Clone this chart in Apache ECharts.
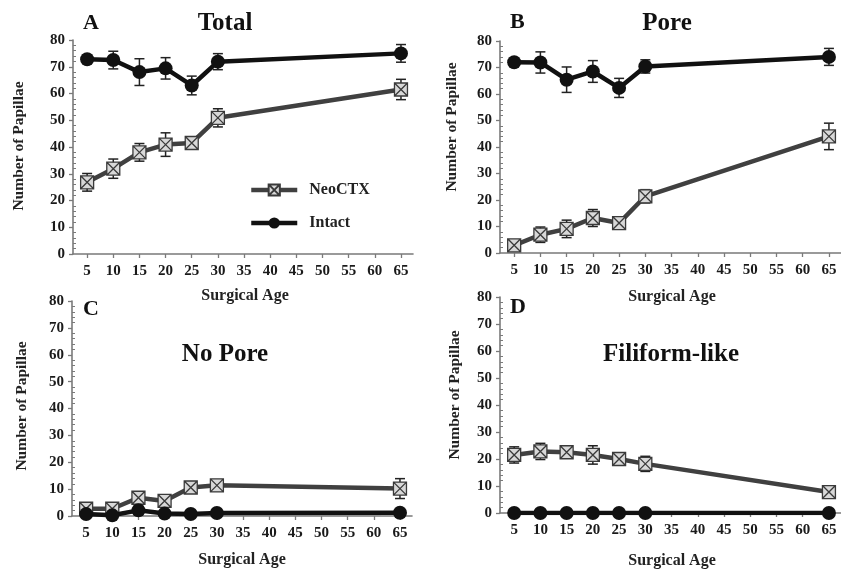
<!DOCTYPE html>
<html><head><meta charset="utf-8">
<script src="https://cdn.jsdelivr.net/npm/echarts@6/dist/echarts.min.js"></script>
<style>html,body{margin:0;padding:0;background:#fff}#c{width:841px;height:575px}</style>
</head><body><div id="c"></div>
<script>
const ages = [5, 10, 15, 20, 25, 30, 65];
const xTicks = [5, 10, 15, 20, 25, 30, 35, 40, 45, 50, 55, 60, 65];

const totalNeo = [26.8, 31.9, 38.0, 40.9, 41.5, 50.9, 61.5];
const totalNeoErr = [3.3, 3.6, 3.3, 4.4, 2.0, 3.4, 3.8];
const totalIntact = [72.8, 72.5, 68.0, 69.4, 63.0, 71.9, 75.0];
const totalIntactErr = [1.5, 3.3, 5.0, 4.0, 3.5, 3.0, 3.3];

const poreNeo = [2.9, 6.9, 9.1, 13.2, 11.3, 21.4, 44.0];
const poreNeoErr = [1.5, 2.9, 3.3, 3.2, 2.0, 2.5, 5.0];
const poreIntact = [72.0, 71.9, 65.4, 68.5, 62.3, 70.4, 74.0];
const poreIntactErr = [1.0, 4.0, 4.8, 4.1, 3.6, 2.5, 3.2];

const noPoreNeo = [2.7, 2.7, 6.8, 5.6, 10.6, 11.4, 10.2];
const noPoreNeoErr = [1.5, 1.5, 1.5, 1.5, 1.5, 2.0, 3.7];
const noPoreIntact = [0.7, 0.25, 2.1, 0.9, 0.75, 1.1, 1.2];
const noPoreIntactErr = [0.5, 0.5, 1.5, 0.5, 0.5, 0.5, 0.5];

const filiNeo = [21.5, 22.8, 22.5, 21.5, 20.0, 18.2, 7.75];
const filiNeoErr = [3.0, 3.0, 1.5, 3.4, 1.5, 2.8, 1.5];
const filiIntact = [0, 0, 0, 0, 0, 0, 0];
const filiIntactErr = [0, 0, 0, 0, 0, 0, 0];

const panelLetters = ['A', 'B', 'C', 'D'];
const panelTitles = ['Total', 'Pore', 'No Pore', 'Filiform-like'];
const xName = 'Surgical Age';
const yName = 'Number of Papillae';

const panels = [
  { neo: totalNeo, neoErr: totalNeoErr, intact: totalIntact, intactErr: totalIntactErr },
  { neo: poreNeo, neoErr: poreNeoErr, intact: poreIntact, intactErr: poreIntactErr },
  { neo: noPoreNeo, neoErr: noPoreNeoErr, intact: noPoreIntact, intactErr: noPoreIntactErr },
  { neo: filiNeo, neoErr: filiNeoErr, intact: filiIntact, intactErr: filiIntactErr }
];

const FONT = "'Liberation Serif', 'Times New Roman', serif";
const grids = [
  { left: 73, top: 40, width: 340, height: 214 },
  { left: 500, top: 41, width: 341, height: 212 },
  { left: 72, top: 301, width: 340, height: 215 },
  { left: 500, top: 297, width: 341, height: 216 }
];
const letterPos = [[83, 23], [510, 22], [83, 309], [510, 307]];
const titlePos = [[225, 24], [667, 24], [225, 355], [671, 355]];
const xNamePos = [[245, 296], [672, 297], [242, 560], [672, 561]];
const yNamePos = [[19, 146], [452, 127], [22, 406], [455, 395]];

const neoSymbol = 'path://M0,0H10V10H0Z M0,0L10,10 M10,0L0,10';
const axisColor = '#7a7a7a';

const xAxes = [], yAxes = [], series = [], graphics = [];
grids.forEach((g, i) => {
  xAxes.push({
    type: 'value', gridIndex: i, min: 2.3, max: 67.3,
    splitLine: { show: false },
    axisLine: { show: true, lineStyle: { color: axisColor, width: 1.6 } },
    axisTick: { show: true, length: 4, customValues: xTicks, lineStyle: { color: axisColor, width: 1.3 } },
    axisLabel: { customValues: xTicks, margin: 10, color: '#1a1a1a', fontFamily: FONT, fontWeight: 'bold', fontSize: 15 }
  });
  yAxes.push({
    type: 'value', gridIndex: i, min: 0, max: 80, interval: 10,
    splitLine: { show: false },
    axisLine: { show: true, lineStyle: { color: axisColor, width: 1.6 } },
    axisTick: { show: true, length: 4, lineStyle: { color: axisColor, width: 1.3 } },
    axisLabel: { margin: 8, color: '#1a1a1a', fontFamily: FONT, fontWeight: 'bold', fontSize: 15 }
  });
  yAxes.push({
    type: 'value', gridIndex: i, min: 0, max: 80, interval: 10, position: 'left', offset: 0,
    splitLine: { show: false },
    axisLine: { show: false },
    axisTick: { show: false, inside: true },
    minorTick: { show: true, splitNumber: 5, length: 3, lineStyle: { color: axisColor, width: 1 } },
    axisLabel: { show: false }
  });
  const p = panels[i];
  const errData = (vals, errs) => ages.map((a, k) => [a, vals[k], errs[k]]);
  const errSeries = (vals, errs) => ({
    type: 'custom', xAxisIndex: i, yAxisIndex: 2 * i, z: 1, silent: true,
    data: errData(vals, errs),
    renderItem: (params, api) => {
      const x = api.value(0), y = api.value(1), e = api.value(2);
      if (!e) return null;
      const t = api.coord([x, y + e]), b = api.coord([x, y - e]);
      const w = 5;
      const st = { stroke: '#222', lineWidth: 1.5 };
      return { type: 'group', children: [
        { type: 'line', shape: { x1: t[0], y1: t[1], x2: b[0], y2: b[1] }, style: st },
        { type: 'line', shape: { x1: t[0] - w, y1: t[1], x2: t[0] + w, y2: t[1] }, style: st },
        { type: 'line', shape: { x1: b[0] - w, y1: b[1], x2: b[0] + w, y2: b[1] }, style: st }
      ] };
    }
  });
  series.push(errSeries(p.neo, p.neoErr));
  series.push(errSeries(p.intact, p.intactErr));
  series.push({
    name: 'NeoCTX', type: 'line', xAxisIndex: i, yAxisIndex: 2 * i, z: 3,
    data: ages.map((a, k) => [a, p.neo[k]]),
    symbol: neoSymbol, symbolSize: 13, showAllSymbol: true,
    lineStyle: { color: '#404040', width: 4.5 },
    itemStyle: { color: '#d8d8d8', borderColor: '#3a3a3a', borderWidth: 1.3 },
    emphasis: { disabled: true }
  });
  series.push({
    name: 'Intact', type: 'line', xAxisIndex: i, yAxisIndex: 2 * i, z: 4,
    data: ages.map((a, k) => [a, p.intact[k]]),
    symbol: 'circle', symbolSize: 14, showAllSymbol: true,
    lineStyle: { color: '#111', width: 4.5 },
    itemStyle: { color: '#111' },
    emphasis: { disabled: true }
  });
  graphics.push({ type: 'text', x: letterPos[i][0], y: letterPos[i][1],
    style: { text: panelLetters[i], font: `bold 22px ${FONT}`, fill: '#111', verticalAlign: 'middle', align: 'left' } });
  graphics.push({ type: 'text', x: titlePos[i][0], y: titlePos[i][1],
    style: { text: panelTitles[i], font: `bold 25px ${FONT}`, fill: '#111', verticalAlign: 'middle', align: 'center' } });
  graphics.push({ type: 'text', x: xNamePos[i][0], y: xNamePos[i][1],
    style: { text: xName, font: `bold 16px ${FONT}`, fill: '#222', verticalAlign: 'middle', align: 'center' } });
  graphics.push({ type: 'text', x: yNamePos[i][0], y: yNamePos[i][1], rotation: Math.PI / 2,
    style: { text: yName, font: `bold 15.5px ${FONT}`, fill: '#222', verticalAlign: 'middle', align: 'center' } });
});

const chart = echarts.init(document.getElementById('c'), null, { renderer: 'canvas' });
chart.setOption({
  animation: false,
  backgroundColor: '#fff',
  grid: grids,
  xAxis: xAxes,
  yAxis: yAxes,
  legend: {
    data: ['NeoCTX', 'Intact'], orient: 'vertical', left: 249, top: 182, padding: 0,
    itemWidth: 46, itemHeight: 14, itemGap: 17,
    lineStyle: { width: 4.5 },
    textStyle: { fontFamily: FONT, fontWeight: 'bold', fontSize: 16, color: '#222', padding: [0, 0, 0, 7] }
  },
  graphic: graphics,
  series: series
});
</script></body></html>
